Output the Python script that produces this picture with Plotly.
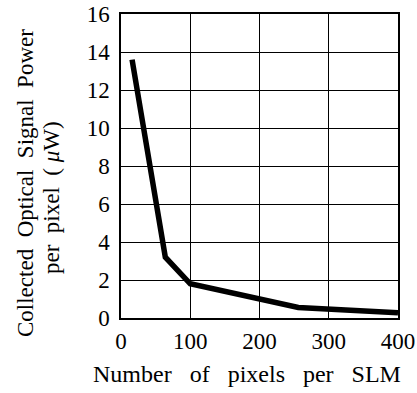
import plotly.graph_objects as go

pixels = [16, 64, 100, 196, 256, 400]
power = [13.6, 3.2, 1.8, 1.05, 0.55, 0.28]
x_ticks = [0, 100, 200, 300, 400]
y_ticks = [0, 2, 4, 6, 8, 10, 12, 14, 16]

FONT = "Liberation Serif"
NB = "\u00a0"

W, H = 417, 393
# plot area edges in window pixels
PL, PR, PT, PB = 121, 398, 14, 318
L, R, T, B = PL, W - PR, PT, H - PB

fig = go.Figure()
fig.add_trace(go.Scatter(x=pixels, y=power, mode="lines",
                         line=dict(color="black", width=5.5), showlegend=False))

fig.update_layout(
    width=W, height=H,
    margin=dict(l=L, r=R, t=T, b=B, autoexpand=False),
    paper_bgcolor="white", plot_bgcolor="white",
    font=dict(family=FONT, size=22, color="black"),
    xaxis=dict(range=[0, 400], tickvals=x_ticks, showgrid=True, gridcolor="black",
               gridwidth=1, showline=True, linecolor="black", linewidth=1.5, mirror=True,
               ticks="", zeroline=False, tickfont=dict(size=23, family=FONT),
               ticklabelstandoff=2, automargin=False, ticklabeloverflow="allow"),
    yaxis=dict(range=[0, 16], tickvals=y_ticks, showgrid=True, gridcolor="black",
               gridwidth=1, showline=True, linecolor="black", linewidth=1.5, mirror=True,
               ticks="", zeroline=False, tickfont=dict(size=23, family=FONT),
               ticklabelstandoff=5, automargin=False, ticklabeloverflow="allow"),
)

def px_x(p):
    return (p - PL) / (PR - PL)

def px_y(p):
    return 1 - (p - PT) / (PB - PT)

sp = NB * 2
fig.add_annotation(text=f"Collected{sp}Optical{sp}Signal{sp}Power", textangle=-90,
                   xref="paper", yref="paper", x=px_x(25), y=px_y(183),
                   showarrow=False, xanchor="center", yanchor="middle",
                   font=dict(size=23, family=FONT))
fig.add_annotation(text=f"per{sp}pixel{sp}( <i>μ</i>W)", textangle=-90,
                   xref="paper", yref="paper", x=px_x(51), y=px_y(198),
                   showarrow=False, xanchor="center", yanchor="middle",
                   font=dict(size=23, family=FONT))
sx = NB * 3
fig.add_annotation(text=f"Number{sx}of{sx}pixels{sx}per{sx}SLM",
                   xref="paper", yref="paper", x=px_x(247), y=px_y(374),
                   showarrow=False, xanchor="center", yanchor="middle",
                   font=dict(size=24, family=FONT))

fig.write_html("out.html", config={"displayModeBar": False},
               post_script="document.body.style.margin='0';")
